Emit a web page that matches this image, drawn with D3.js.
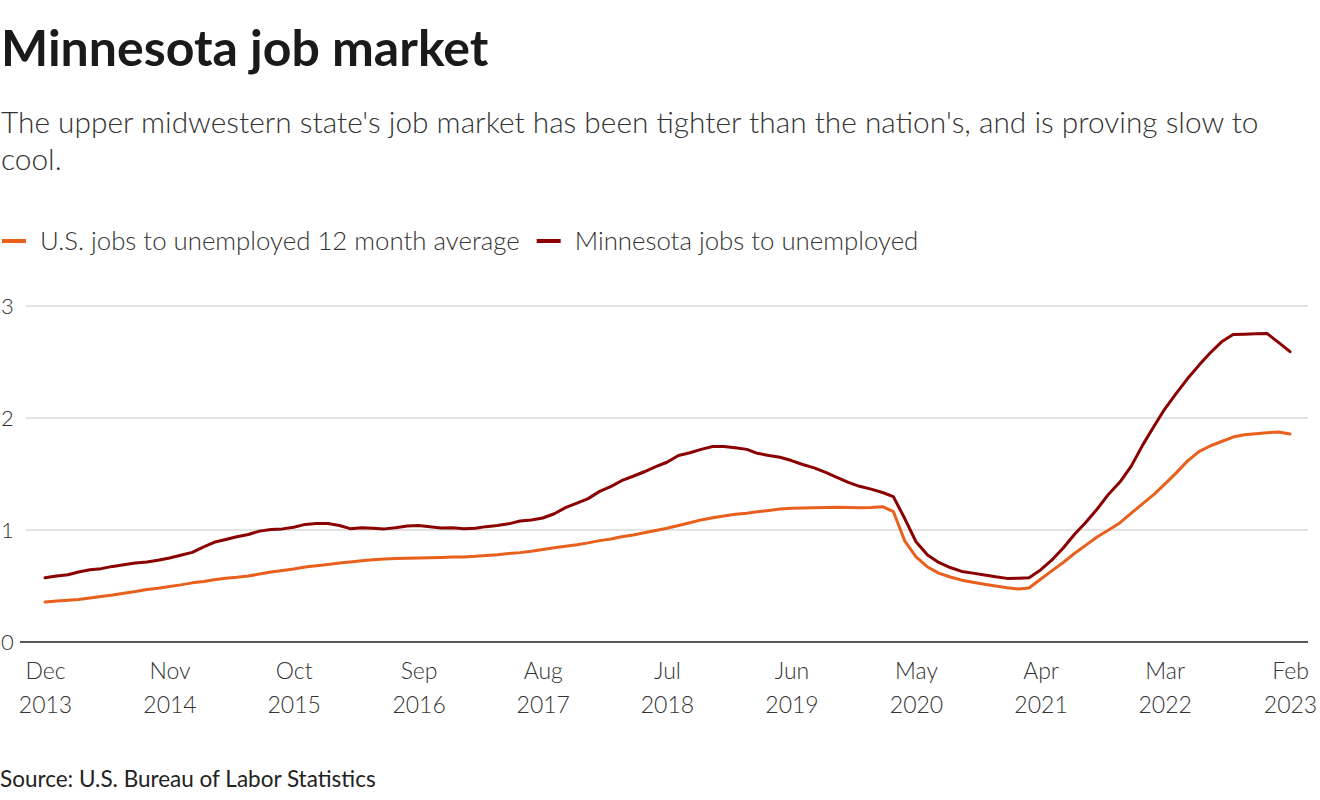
<!DOCTYPE html>
<html>
<head>
<meta charset="utf-8">
<script src="https://cdn.jsdelivr.net/npm/d3@7"></script>
<style>
  html, body { margin: 0; padding: 0; background: #fff; }
  svg { display: block; font-family: "Lato", "Noto Sans", sans-serif; }
</style>
</head>
<body>
<svg id="chart" width="1320" height="800"></svg>
<script>
// ---- Data (monthly, Dec 2013 – Feb 2023) ----
const startMonth = "2013-12";
const usValues = [
  0.357,0.365,0.372,0.380,0.393,0.407,0.420,0.435,0.450,0.468,
  0.480,0.495,0.510,0.528,0.540,0.556,0.570,0.578,0.590,0.607,
  0.625,0.638,0.652,0.670,0.680,0.692,0.705,0.715,0.725,0.735,
  0.740,0.745,0.747,0.750,0.752,0.754,0.758,0.760,0.765,0.772,
  0.780,0.790,0.798,0.810,0.825,0.842,0.855,0.868,0.885,0.905,
  0.920,0.940,0.955,0.975,0.995,1.015,1.040,1.065,1.090,1.110,
  1.125,1.140,1.150,1.163,1.175,1.187,1.194,1.196,1.198,1.200,
  1.203,1.200,1.198,1.200,1.208,1.165,0.900,0.760,0.670,0.615,
  0.580,0.552,0.533,0.515,0.500,0.485,0.473,0.482,0.560,0.635,
  0.710,0.790,0.865,0.940,1.000,1.065,1.150,1.235,1.320,1.410,
  1.510,1.615,1.700,1.750,1.790,1.830,1.850,1.860,1.868,1.875,
  1.857
];
const mnValues = [
  0.573,0.590,0.600,0.625,0.645,0.655,0.675,0.690,0.705,0.714,
  0.730,0.750,0.775,0.800,0.850,0.890,0.915,0.940,0.960,0.990,
  1.005,1.010,1.025,1.050,1.058,1.058,1.040,1.012,1.020,1.015,
  1.010,1.020,1.035,1.040,1.030,1.018,1.020,1.012,1.015,1.030,
  1.040,1.055,1.080,1.090,1.107,1.145,1.200,1.240,1.280,1.345,
  1.390,1.440,1.480,1.520,1.565,1.605,1.665,1.690,1.720,1.745,
  1.745,1.735,1.720,1.685,1.665,1.650,1.620,1.585,1.555,1.515,
  1.470,1.425,1.390,1.365,1.335,1.298,1.100,0.895,0.777,0.710,
  0.665,0.630,0.615,0.598,0.582,0.568,0.570,0.574,0.643,0.730,
  0.840,0.960,1.070,1.190,1.320,1.430,1.570,1.760,1.930,2.080,
  2.220,2.350,2.470,2.580,2.680,2.745,2.748,2.752,2.755,2.675,
  2.592
];
const seriesNames = ["U.S. jobs to unemployed 12 month average", "Minnesota jobs to unemployed"];
const seriesColors = ["#e8601c", "#8b0000"];
const xTickMonths = ["2013-12","2014-11","2015-10","2016-09","2017-08","2018-07","2019-06","2020-05","2021-04","2022-03","2023-02"];
const xTickLabels = [["Dec","2013"],["Nov","2014"],["Oct","2015"],["Sep","2016"],["Aug","2017"],["Jul","2018"],["Jun","2019"],["May","2020"],["Apr","2021"],["Mar","2022"],["Feb","2023"]];
const yTicks = [0, 1, 2, 3];

const title = "Minnesota job market";
const subtitleLines = ["The upper midwestern state's job market has been tighter than the nation's, and is proving slow to", "cool."];
const source = "Source: U.S. Bureau of Labor Statistics";

// ---- Setup ----
const parseMonth = d3.utcParse("%Y-%m");
const start = parseMonth(startMonth);
const dates = usValues.map((_, i) => d3.utcMonth.offset(start, i));
const svg = d3.select("#chart");

const x = d3.scaleUtc().domain([dates[0], dates[dates.length - 1]]).range([45, 1290]);
const y = d3.scaleLinear().domain([0, 3]).range([642, 306]);

// Title / subtitle
svg.append("text").attr("x", 1).attr("y", 66)
  .attr("font-size", 50).attr("font-weight", 700).attr("fill", "#1a1a1a").text(title);
subtitleLines.forEach((t, i) => {
  svg.append("text").attr("x", 1).attr("y", 133 + i * 37)
    .attr("font-size", 29.85).attr("font-weight", 300).attr("fill", "#333").text(t);
});

// Legend
const legend = svg.append("g");
let lx = 2;
seriesNames.forEach((name, i) => {
  legend.append("line").attr("x1", lx).attr("x2", lx + 24).attr("y1", 241).attr("y2", 241)
    .attr("stroke", seriesColors[i]).attr("stroke-width", 4);
  const t = legend.append("text").attr("x", lx + 38).attr("y", 250)
    .attr("font-size", 25.8).attr("font-weight", 300).attr("fill", "#333").text(name);
  lx = lx + 38 + t.node().getComputedTextLength() + 17;
});

// Gridlines
const grid = svg.append("g");
yTicks.filter(d => d !== 0).forEach(v => {
  grid.append("line").attr("x1", 26).attr("x2", 1308).attr("y1", y(v)).attr("y2", y(v))
    .attr("stroke", "#c6c6c6").attr("stroke-width", 1.2);
});

// Y axis labels
const yAxis = d3.axisLeft(y).tickValues(yTicks).tickSize(0).tickFormat(d3.format("d"));
const yg = svg.append("g").call(yAxis);
yg.select(".domain").remove();
yg.selectAll("text").attr("x", 1).attr("text-anchor", "start").attr("dy", "0.35em")
  .attr("font-size", 22).attr("font-weight", 300).attr("fill", "#333").attr("font-family", "Lato, 'Noto Sans', sans-serif");

// Baseline
svg.append("line").attr("x1", 20).attr("x2", 1308).attr("y1", y(0)).attr("y2", y(0))
  .attr("stroke", "#222").attr("stroke-width", 1.5);

// X axis
const xTickDates = xTickMonths.map(parseMonth);
const xAxis = d3.axisBottom(x).tickValues(xTickDates).tickSize(0).tickFormat(() => "");
const xg = svg.append("g").attr("transform", `translate(0,${y(0)})`).call(xAxis);
xg.select(".domain").remove();
xg.selectAll(".tick text").each(function(d, i) {
  const el = d3.select(this);
  el.text(null).attr("y", 0).attr("dy", null)
    .attr("font-size", 23).attr("font-weight", 300).attr("fill", "#333")
    .attr("font-family", "Lato, 'Noto Sans', sans-serif");
  el.append("tspan").attr("x", 0).attr("y", 37).text(xTickLabels[i][0]);
  el.append("tspan").attr("x", 0).attr("y", 71).text(xTickLabels[i][1]);
});

// Lines
const line = d3.line().x((d, i) => x(dates[i])).y(d => y(d));
[usValues, mnValues].forEach((vals, k) => {
  svg.append("path").datum(vals).attr("d", line)
    .attr("fill", "none").attr("stroke", seriesColors[k]).attr("stroke-width", 3)
    .attr("stroke-linejoin", "round").attr("stroke-linecap", "round");
});

// Source
svg.append("text").attr("x", 0).attr("y", 787)
  .attr("font-size", 22.5).attr("font-weight", 400).attr("fill", "#222").text(source);
</script>
</body>
</html>
